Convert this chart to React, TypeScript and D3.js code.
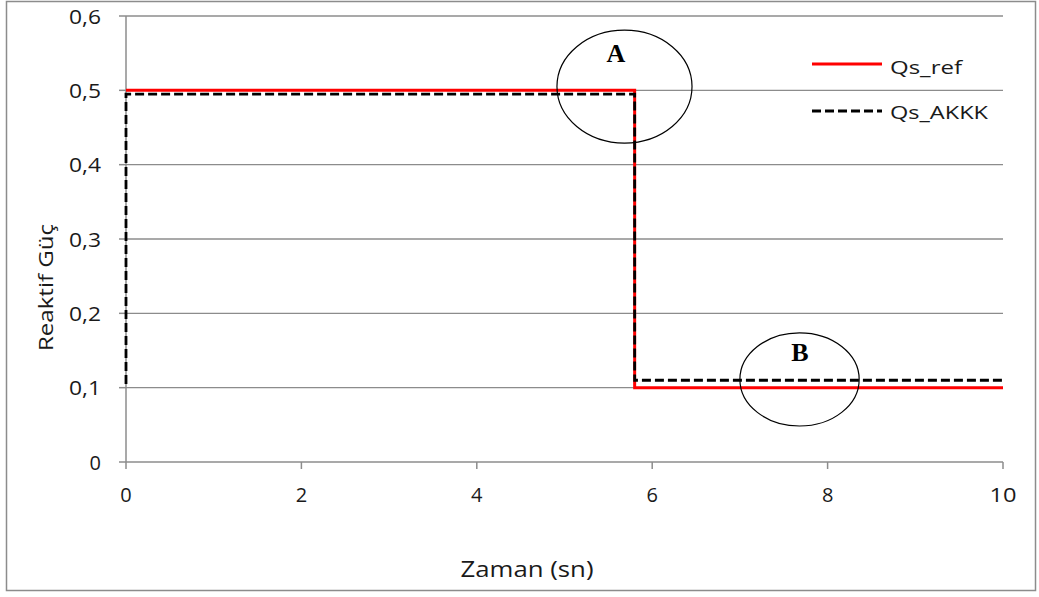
import React from "react";
import * as d3 from "d3";

const refTime = [0, 5.8, 5.8, 10];
const refQ = [0.5, 0.5, 0.1, 0.1];
const akkkTime = [0, 0, 5.8, 5.8, 10];
const akkkQ = [0.105, 0.495, 0.495, 0.11, 0.11];
const xTicks = [0, 2, 4, 6, 8, 10];
const yTicks = [0, 0.1, 0.2, 0.3, 0.4, 0.5, 0.6];
const seriesNames = ["Qs_ref", "Qs_AKKK"];
const annotations = [
  { label: "A", cx: 5.684, cy: 0.505, rx: 0.77, ry: 0.076, lx: 5.587, ly: 0.55 },
  { label: "B", cx: 7.68, cy: 0.111, rx: 0.68, ry: 0.0626, lx: 7.685, ly: 0.148 },
];

const W = 1039;
const H = 597;
const FONT = "'Open Sans', 'Noto Sans', sans-serif";

export default function App() {
  const x = d3.scaleLinear().domain([0, 10]).range([126, 1003]);
  const y = d3.scaleLinear().domain([0, 0.6]).range([462, 16]);
  const line = d3
    .line<[number, number]>()
    .x((d) => x(d[0]))
    .y((d) => y(d[1]));
  const refPts = refTime.map((t, i) => [t, refQ[i]] as [number, number]);
  const akPts = akkkTime.map((t, i) => [t, akkkQ[i]] as [number, number]);
  const fmt = (v: number) => (v === 0 ? "0" : d3.format(".1f")(v).replace(".", ","));
  const txt = "#1a1a1a";

  return (
    <svg
      width={W}
      height={H}
      style={{ position: "absolute", left: 0, top: 0, background: "#fff" }}
      fontFamily={FONT}
    >
      <rect x={0} y={0} width={W} height={H} fill="#fff" />
      <rect x={6.5} y={1.5} width={1029} height={589} fill="none" stroke="#8c8c8c" strokeWidth={1.5} />
      {/* gridlines */}
      {yTicks.slice(1).map((v) => (
        <line key={"g" + v} x1={x(0)} x2={x(10)} y1={y(v)} y2={y(v)} stroke="#8c8c8c" strokeWidth={1.3} />
      ))}
      {/* axes */}
      <line x1={x(0)} x2={x(0)} y1={y(0.6)} y2={y(0)} stroke="#8c8c8c" strokeWidth={1.5} />
      <line x1={x(0)} x2={x(10)} y1={y(0)} y2={y(0)} stroke="#8c8c8c" strokeWidth={1.5} />
      {yTicks.map((v) => (
        <g key={"y" + v}>
          <line x1={x(0) - 7} x2={x(0)} y1={y(v)} y2={y(v)} stroke="#8c8c8c" strokeWidth={1.5} />
          <text
            x={101}
            y={y(v) + 7.5}
            textAnchor="end"
            fontSize={20}
            fill={txt}
            {...(v !== 0 ? { textLength: 32, lengthAdjust: "spacingAndGlyphs" } : {})}
          >
            {fmt(v)}
          </text>
        </g>
      ))}
      {xTicks.map((v) => (
        <g key={"x" + v}>
          <line x1={x(v)} x2={x(v)} y1={y(0)} y2={y(0) + 7} stroke="#8c8c8c" strokeWidth={1.5} />
          <text
            x={x(v)}
            y={502}
            textAnchor="middle"
            fontSize={20}
            fill={txt}
            {...(v >= 10 ? { textLength: 27, lengthAdjust: "spacingAndGlyphs" } : {})}
          >
            {v}
          </text>
        </g>
      ))}
      <text
        transform={`translate(53,287.5) rotate(-90)`}
        textAnchor="middle"
        fontSize={20}
        fill={txt}
        textLength={127}
        lengthAdjust="spacingAndGlyphs"
      >
        Reaktif Güç
      </text>
      <text
        x={527}
        y={577}
        textAnchor="middle"
        fontSize={21}
        fill={txt}
        textLength={133}
        lengthAdjust="spacingAndGlyphs"
      >
        Zaman (sn)
      </text>
      {/* series */}
      <path d={line(refPts) || ""} fill="none" stroke="#ff0000" strokeWidth={3} />
      <path
        d={line(akPts) || ""}
        fill="none"
        stroke="#000"
        strokeWidth={2.8}
        strokeDasharray="9,4"
      />
      {/* annotations */}
      {annotations.map((a) => (
        <g key={a.label}>
          <ellipse
            cx={x(a.cx)}
            cy={y(a.cy)}
            rx={x(a.rx) - x(0)}
            ry={y(0) - y(a.ry)}
            fill="none"
            stroke="#000"
            strokeWidth={1.2}
          />
          <text
            x={x(a.lx)}
            y={y(a.ly)}
            dy="0.35em"
            textAnchor="middle"
            fontFamily="'Liberation Serif', 'DejaVu Serif', serif"
            fontWeight="bold"
            fontSize={26}
            fill="#000"
          >
            {a.label}
          </text>
        </g>
      ))}
      {/* legend */}
      <line x1={812} x2={882} y1={64} y2={64} stroke="#ff0000" strokeWidth={3} />
      <text x={890} y={73.5} fontSize={19} fill={txt} textLength={72} lengthAdjust="spacingAndGlyphs">
        {seriesNames[0]}
      </text>
      <line x1={812} x2={882} y1={111} y2={111} stroke="#000" strokeWidth={2.8} strokeDasharray="9,4" />
      <text x={890} y={119} fontSize={19} fill={txt} textLength={98} lengthAdjust="spacingAndGlyphs">
        {seriesNames[1]}
      </text>
    </svg>
  );
}
